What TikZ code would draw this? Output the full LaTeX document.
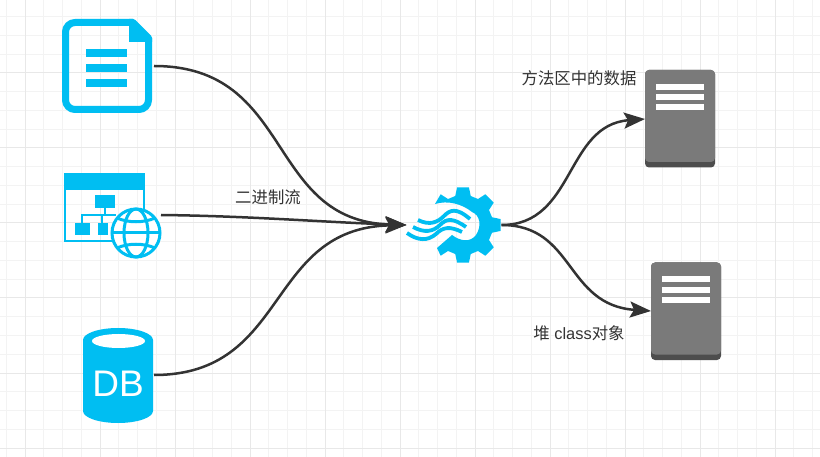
\documentclass[tikz,border=0pt]{standalone}
\usepackage{fontspec}
\usepackage{xcolor}
\usepackage{tikz}
\usetikzlibrary{arrows.meta}
\setmainfont{Liberation Sans}
\newfontfamily\cjk{Noto Sans CJK SC}
\definecolor{IconBlue}{HTML}{00BEF2}
\definecolor{ServerGrey}{HTML}{7A7A7A}
\definecolor{ServerDark}{HTML}{4D4D4D}
\definecolor{InkGrey}{HTML}{333333}
\definecolor{GridMajor}{HTML}{E8E8E8}
\definecolor{GridMinor}{HTML}{F3F3F3}
\tikzset{
  anchorbox/.style = {inner sep = 0pt, outer sep = 0pt},
  flow/.style = {line width = 2.5pt, draw = InkGrey, -{Stealth[length = 21pt, width = 16pt, inset = 4pt]}},
  caption/.style = {inner sep = 0pt, text = InkGrey, font = \fontsize{16.4}{19}\selectfont},
  wave/.style = {IconBlue, line width = 3.8pt}
}

\begin{document}
\begin{tikzpicture}[x = 1pt, y = -1pt]
  \useasboundingbox (0,0) rectangle (820,457);
  \fill[white] (0,0) rectangle (820,457);

  % grid
  \foreach \i in {-1,...,43} {
    \draw[GridMinor, line width = 1pt] ({25+18.75*\i},0) -- ({25+18.75*\i},457);
  }
  \foreach \i in {0,...,24} {
    \draw[GridMinor, line width = 1pt] (0,{-2+18.75*\i}) -- (820,{-2+18.75*\i});
  }
  \foreach \i in {0,...,10} {
    \draw[GridMajor, line width = 1pt] ({25+75*\i},0) -- ({25+75*\i},457);
  }
  \foreach \i in {0,...,5} {
    \draw[GridMajor, line width = 1pt] (0,{73+75*\i}) -- (820,{73+75*\i});
  }

  % places of the icons
  \node[anchorbox, minimum width = 92pt, minimum height = 94pt] (doc) at (108,66) {};
  \node[anchorbox, minimum width = 97pt, minimum height = 85pt] (web) at (112.5,215) {};
  \node[anchorbox, minimum width = 71pt, minimum height = 95pt] (db) at (118.5,375) {};
  \node[anchorbox, minimum width = 95pt, minimum height = 74pt] (gear) at (454,225) {};
  \node[anchorbox, minimum width = 70pt, minimum height = 98pt] (srvA) at (680,119) {};
  \node[anchorbox, minimum width = 70pt, minimum height = 97pt] (srvB) at (686,311) {};

  % document
  \draw[IconBlue, line width = 7pt, line join = round]
    (65.5,32) arc (180:270:9.5) -- (133,22.5) -- (148.5,38) -- (148.5,100)
    arc (0:90:9.5) -- (75,109.5) arc (90:180:9.5) -- cycle;
  \fill[IconBlue] (129,19) -- (133,19) -- (152,38) -- (152,42) -- (129,42) -- cycle;
  \foreach \y in {49,64,79} {
    \fill[IconBlue] (86,\y) rectangle (127,\y+8);
  }

  % web page and globe
  \draw[IconBlue, line width = 2pt] (65,174) rectangle (144,241);
  \fill[IconBlue] (64,173) rectangle (145,190);
  \fill[IconBlue] (95,195) rectangle (115,208);
  \fill[IconBlue] (75,223) rectangle (90,235);
  \fill[IconBlue] (97.5,223) rectangle (108,235);
  \draw[IconBlue, line width = 2pt] (105,208) -- (105,215);
  \draw[IconBlue, line width = 2pt] (82,224) -- (82,215) -- (116,215);
  \draw[IconBlue, line width = 2pt] (102,215) -- (102,224);
  \draw[IconBlue, line width = 3pt, fill = white] (136,233) circle [radius = 24];
  \draw[IconBlue, line width = 3pt] (136,233) ellipse [x radius = 12, y radius = 24];
  \draw[IconBlue, line width = 3pt] (112,233) -- (160,233);
  \draw[IconBlue, line width = 3pt] (117,218) .. controls (128,223) and (144,223) .. (155,218);
  \draw[IconBlue, line width = 3pt] (117,248) .. controls (128,243) and (144,243) .. (155,248);

  % database
  \fill[IconBlue] (83,340) arc (180:360:35 and 12) -- (153,411)
    arc (0:180:35 and 12) -- cycle;
  \fill[white] (118.5,341) ellipse [x radius = 26.5, y radius = 7];
  \node[anchorbox, text = white, font = \fontsize{37}{42}\selectfont] (dbtext) at (118,384) {DB};

  % gear
  \fill[IconBlue]
    (435,204) -- ([shift = {(463,225)}] -126:38) -- ([shift = {(463,225)}] -120:30)
    \foreach \a in {-90,-45,0,45,90} {
      -- ([shift = {(463,225)}] \a-15:30) -- ([shift = {(463,225)}] \a-9:38)
      -- ([shift = {(463,225)}] \a+9:38) -- ([shift = {(463,225)}] \a+15:30)
    }
    -- ([shift = {(463,225)}] 120:30) -- ([shift = {(463,225)}] 126:38) -- (437,248)
    -- (452,235) .. controls (460,241) and (470,243) .. (476,235)
    .. controls (482,226) and (480,215) .. (472,212)
    .. controls (462,204) and (448,200) .. (435,204) -- cycle;
  \draw[wave] (418,220) .. controls (430,226) and (438,222) .. (444,216)
    .. controls (450,210) and (456,207) .. (470,219);
  \draw[wave] (413,227) .. controls (424,233) and (433,232) .. (440,225)
    .. controls (447,218) and (453,218) .. (466,227);
  \draw[wave] (407,233) .. controls (418,241) and (428,241) .. (436,234)
    .. controls (443,227) and (450,226) .. (462,232);

  % servers
  \foreach \name in {srvA, srvB} {
    \begin{scope}[shift = {(\name.north west)}]
      \fill[ServerDark, rounded corners = 4pt] (0,0) rectangle (70,97.5);
      \fill[ServerGrey, rounded corners = 4pt] (0,0) rectangle (70,92);
      \foreach \y in {14,24.5,34.5} {
        \fill[white] (11,\y) rectangle (59,\y+6);
      }
    \end{scope}
  }

  % connectors
  \draw[flow] (doc.east) .. controls (295,66) and (265,221) .. (gear.west);
  \draw[flow] (web.east) .. controls (250,216) and (320,222) .. (gear.west);
  \draw[flow] (db.east) .. controls (290,375) and (265,228) .. (gear.west);
  \draw[flow] (gear.east) .. controls (575,225) and (565,125) .. (srvA.west);
  \draw[flow] (gear.east) .. controls (575,225) and (565,305) .. (srvB.west);

  % labels
  \node[caption] (flowlabel) at (268,197) {\cjk 二进制流};
  \node[caption] (methodlabel) at (579,78) {\cjk 方法区中的数据};
  \node[caption] (heaplabel) at (579,333) {{\cjk 堆} class{\cjk 对象}};
\end{tikzpicture}
\end{document}
